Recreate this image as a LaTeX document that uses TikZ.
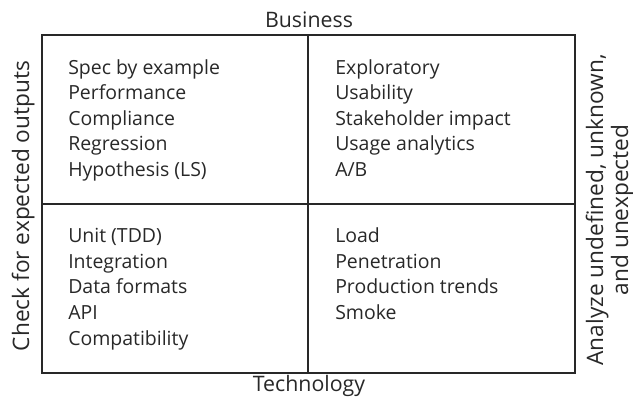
\documentclass[tikz,border=0pt]{standalone}
\usepackage{fontspec}
\setmainfont{Open Sans}
\usepackage{xcolor}
\usetikzlibrary{positioning}
\definecolor{cink}{RGB}{40,40,40}

\begin{document}
\begin{tikzpicture}[
  x=0.75pt,y=-0.75pt,
  color=cink,
  quad/.style={anchor=base west,align=left,inner sep=0pt,font=\fontsize{14.6}{19.2}\selectfont},
  axis/.style={inner sep=0pt,anchor=base,font=\fontsize{16}{18}\selectfont},
  side/.style={inner sep=0pt,anchor=base,rotate=90,align=center,font=\fontsize{17}{18.75}\selectfont},
  frame/.style={draw=cink,line width=1.6pt},
]
\useasboundingbox (0,0) rectangle (633,405);
% grid of four quadrants
\draw[frame] (42,35) rectangle (575,373);
\draw[frame] (308,35) -- (308,373);
\draw[frame] (42,204) -- (575,204);
% quadrant contents (base = last line)
\node[quad] (q2) at (68,176.5)  {Spec by example\\Performance\\Compliance\\Regression\\Hypothesis (LS)};
\node[quad] (q3) at (335,176.5) {Exploratory\\Usability\\Stakeholder impact\\Usage analytics\\A/B};
\node[quad] (q1) at (68,345)    {Unit (TDD)\\Integration\\Data formats\\API\\Compatibility};
\node[quad] (q4) at (335,319.5) {Load\\Penetration\\Production trends\\Smoke};
% axis labels
\node[axis] (bus)  at (309,27)  {Business};
\node[axis] (tech) at (309,391) {Technology};
\node[side] (chk) at (29,206) {Check for expected outputs};
\node[side] (ana) at (628,210) {Analyze undefined, unknown,\\and unexpected};
\end{tikzpicture}
\end{document}
